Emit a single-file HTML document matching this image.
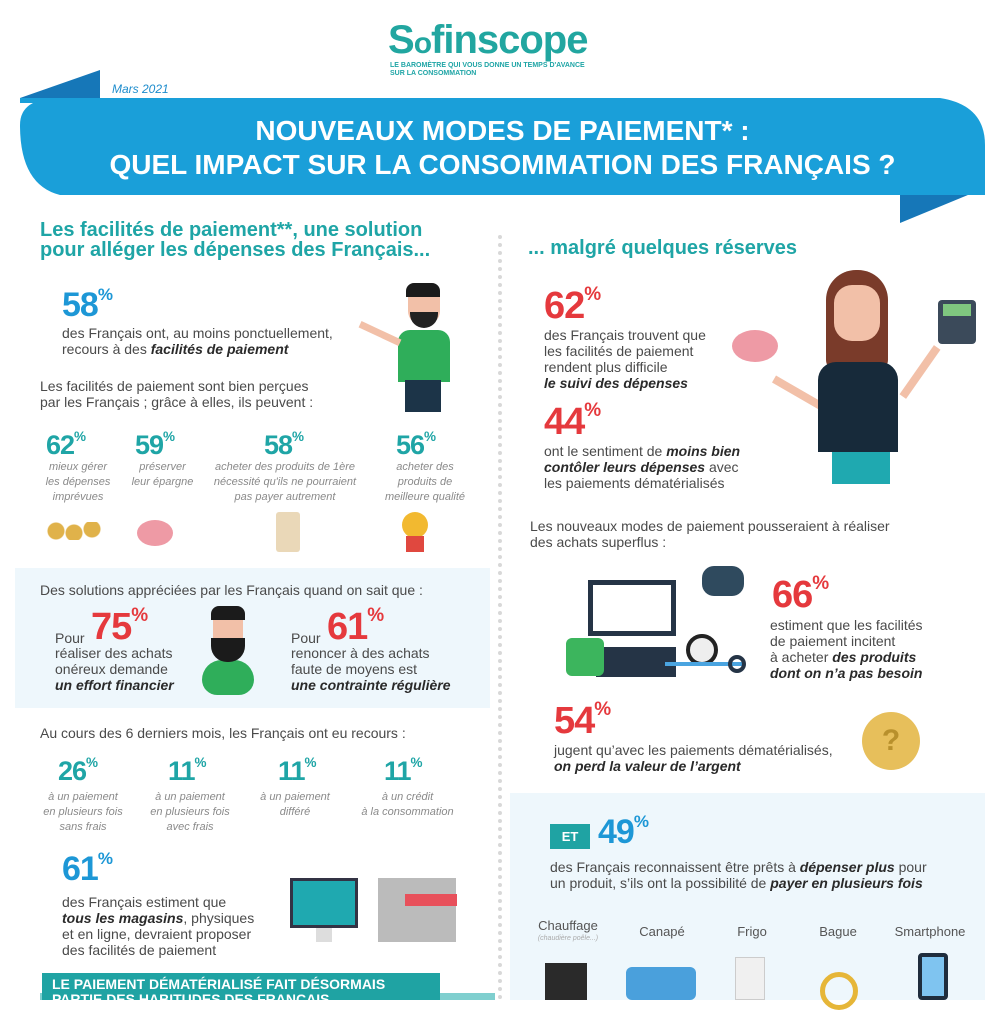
<!DOCTYPE html>
<html><head><meta charset="utf-8">
<style>
*{margin:0;padding:0;box-sizing:border-box}
body{width:1000px;height:1000px;overflow:hidden;background:#fff;position:relative;font-family:"Liberation Sans",sans-serif;color:#4a4a4a}
.a{position:absolute}
.n{font-weight:bold;letter-spacing:-1px;line-height:1}
.n sup{font-size:50%;vertical-align:top;position:relative;top:-2px;letter-spacing:0}
.red{color:#e5393d}.tl{color:#1fa5a6}.bl{color:#1d97d6}
.t{font-size:14px;line-height:16px;color:#4a4a4a}
.s{font-size:11px;line-height:15px;color:#8a8a8a;font-style:italic;text-align:center}
b{color:#2a2a2a;font-style:italic}
.h{color:#1fa5a6;font-weight:bold;font-size:20px;line-height:20px}
</style></head><body>
<div class="a" style="left:388px;top:18px;font-size:40px;font-weight:bold;color:#21a6a0;letter-spacing:-1px">S<span style="font-size:30px">o</span>finscope</div>
<div class="a" style="left:390px;top:62px;font-size:7px;font-weight:bold;color:#1fa5a6;line-height:8px">LE BAROMÈTRE QUI VOUS DONNE UN TEMPS D'AVANCE<br>SUR LA CONSOMMATION</div>
<svg class="a" style="left:0;top:65px" width="1000" height="165">
<polygon points="20,33 100,5 100,40" fill="#1677b8"/>
<polygon points="900,125 980,125 900,158" fill="#1677b8"/>
<path d="M100,33 H940 Q985,40 985,80 V130 H60 Q20,120 20,60 Q20,33 60,33 Z" fill="#1a9fd9"/>
<rect x="20" y="33" width="80" height="5" fill="#1a9fd9"/>
</svg>
<div class="a" style="left:112px;top:82px;font-size:12px;font-style:italic;color:#1d8ccc">Mars 2021</div>
<div class="a" style="left:20px;top:114px;width:965px;text-align:center;color:#fff;font-weight:bold;font-size:28px;line-height:34px">NOUVEAUX MODES DE PAIEMENT* :<br>QUEL IMPACT SUR LA CONSOMMATION DES FRANÇAIS ?</div>
<div class="a" style="left:498px;top:235px;height:765px;border-left:4px dotted #d8d8d8"></div>
<div class="a h" style="left:40px;top:220px">Les facilités de paiement**, une solution<br>pour alléger les dépenses des Français...</div>
<div class="a n bl" style="left:62px;top:288px;font-size:34px">58<sup>%</sup></div>
<div class="a t" style="left:62px;top:325px">des Français ont, au moins ponctuellement,<br>recours à des <b>facilités de paiement</b></div>
<div class="a" style="left:408px;top:285px;width:32px;height:40px;background:#f2c0a8;border-radius:10px 10px 14px 14px"></div>
<div class="a" style="left:406px;top:283px;width:34px;height:14px;background:#1b1b1b;border-radius:8px 8px 0 0"></div>
<div class="a" style="left:410px;top:312px;width:28px;height:16px;background:#222;border-radius:0 0 14px 14px"></div>
<div class="a" style="left:398px;top:330px;width:52px;height:52px;background:#2fae5a;border-radius:12px 12px 0 0"></div>
<div class="a" style="left:405px;top:380px;width:36px;height:32px;background:#1c3448"></div>
<div class="a" style="left:358px;top:330px;width:44px;height:7px;background:#f2c0a8;transform:rotate(25deg)"></div>
<div class="a t" style="left:40px;top:378px">Les facilités de paiement sont bien perçues<br>par les Français ; grâce à elles, ils peuvent :</div>
<div class="a n tl" style="left:46px;top:432px;font-size:27px">62<sup>%</sup></div>
<div class="a s" style="left:28px;top:460px;width:100px">mieux gérer<br>les dépenses<br>imprévues</div>
<div class="a n tl" style="left:135px;top:432px;font-size:27px">59<sup>%</sup></div>
<div class="a s" style="left:115px;top:460px;width:95px">préserver<br>leur épargne</div>
<div class="a n tl" style="left:264px;top:432px;font-size:27px">58<sup>%</sup></div>
<div class="a s" style="left:205px;top:460px;width:160px">acheter des produits de 1ère<br>nécessité qu'ils ne pourraient<br>pas payer autrement</div>
<div class="a n tl" style="left:396px;top:432px;font-size:27px">56<sup>%</sup></div>
<div class="a s" style="left:375px;top:460px;width:100px">acheter des<br>produits de<br>meilleure qualité</div>
<div class="a" style="left:46px;top:522px;width:56px;height:18px;background:radial-gradient(circle at 10px 9px,#e0b24a 8px,transparent 9px),radial-gradient(circle at 28px 11px,#e0b24a 8px,transparent 9px),radial-gradient(circle at 46px 7px,#e0b24a 8px,transparent 9px)"></div>
<div class="a" style="left:137px;top:520px;width:36px;height:26px;background:#ee9aa5;border-radius:50%"></div>
<div class="a" style="left:276px;top:512px;width:24px;height:40px;background:#ead8b8;border-radius:3px"></div>
<div class="a" style="left:402px;top:512px;width:26px;height:26px;background:#f2b930;border-radius:50%"></div>
<div class="a" style="left:406px;top:536px;width:18px;height:16px;background:#e0483f"></div>
<div class="a" style="left:15px;top:568px;width:475px;height:140px;background:#eef7fc"></div>
<div class="a t" style="left:40px;top:582px">Des solutions appréciées par les Français quand on sait que :</div>
<div class="a t" style="left:55px;top:630px">Pour</div>
<div class="a n red" style="left:91px;top:608px;font-size:38px">75<sup>%</sup></div>
<div class="a t" style="left:55px;top:645px">réaliser des achats<br>onéreux demande<br><b>un effort financier</b></div>
<div class="a" style="left:202px;top:660px;width:52px;height:35px;background:#2fae5a;border-radius:26px 26px 20px 20px"></div>
<div class="a" style="left:213px;top:612px;width:30px;height:40px;background:#f2c0a8;border-radius:8px"></div>
<div class="a" style="left:211px;top:606px;width:34px;height:14px;background:#1b1b1b;border-radius:8px 8px 0 0"></div>
<div class="a" style="left:211px;top:638px;width:34px;height:24px;background:#1b1b1b;border-radius:0 0 16px 16px"></div>
<div class="a t" style="left:291px;top:630px">Pour</div>
<div class="a n red" style="left:327px;top:608px;font-size:38px">61<sup>%</sup></div>
<div class="a t" style="left:291px;top:645px">renoncer à des achats<br>faute de moyens est<br><b>une contrainte régulière</b></div>
<div class="a t" style="left:40px;top:725px">Au cours des 6 derniers mois, les Français ont eu recours :</div>
<div class="a n tl" style="left:58px;top:758px;font-size:27px">26<sup>%</sup></div>
<div class="a s" style="left:28px;top:790px;width:110px">à un paiement<br>en plusieurs fois<br>sans frais</div>
<div class="a n tl" style="left:168px;top:758px;font-size:27px">11<sup>%</sup></div>
<div class="a s" style="left:135px;top:790px;width:110px">à un paiement<br>en plusieurs fois<br>avec frais</div>
<div class="a n tl" style="left:278px;top:758px;font-size:27px">11<sup>%</sup></div>
<div class="a s" style="left:245px;top:790px;width:100px">à un paiement<br>différé</div>
<div class="a n tl" style="left:384px;top:758px;font-size:27px">11<sup>%</sup></div>
<div class="a s" style="left:345px;top:790px;width:125px">à un crédit<br>à la consommation</div>
<div class="a n bl" style="left:62px;top:852px;font-size:34px">61<sup>%</sup></div>
<div class="a t" style="left:62px;top:894px">des Français estiment que<br><b>tous les magasins</b>, physiques<br>et en ligne, devraient proposer<br>des facilités de paiement</div>
<div class="a" style="left:290px;top:878px;width:68px;height:50px;background:#1fa9b0;border:3px solid #334"></div>
<div class="a" style="left:316px;top:928px;width:16px;height:14px;background:#ddd"></div>
<div class="a" style="left:378px;top:878px;width:78px;height:64px;background:#bbb"></div>
<div class="a" style="left:405px;top:894px;width:52px;height:12px;background:#e8505b"></div>
<div class="a" style="left:40px;top:993px;width:455px;height:7px;background:#7fcfcf"></div>
<div class="a" style="left:42px;top:973px;width:398px;height:27px;background:#1fa3a3;color:#fff;font-weight:bold;font-size:14px;padding:4px 10px;line-height:15px">LE PAIEMENT DÉMATÉRIALISÉ FAIT DÉSORMAIS<br>PARTIE DES HABITUDES DES FRANÇAIS</div>
<div class="a h" style="left:528px;top:238px">... malgré quelques réserves</div>
<div class="a n red" style="left:544px;top:287px;font-size:38px">62<sup>%</sup></div>
<div class="a t" style="left:544px;top:327px">des Français trouvent que<br>les facilités de paiement<br>rendent plus difficile<br><b>le suivi des dépenses</b></div>
<div class="a n red" style="left:544px;top:403px;font-size:38px">44<sup>%</sup></div>
<div class="a t" style="left:544px;top:443px">ont le sentiment de <b>moins bien<br>contôler leurs dépenses</b> avec<br>les paiements dématérialisés</div>
<div class="a" style="left:826px;top:270px;width:62px;height:100px;background:#7a3b2a;border-radius:30px 30px 10px 10px"></div>
<div class="a" style="left:834px;top:285px;width:46px;height:56px;background:#f2c0a8;border-radius:18px"></div>
<div class="a" style="left:770px;top:390px;width:60px;height:8px;background:#f2c0a8;transform:rotate(30deg)"></div>
<div class="a" style="left:890px;top:368px;width:60px;height:8px;background:#f2c0a8;transform:rotate(-55deg)"></div>
<div class="a" style="left:818px;top:362px;width:80px;height:90px;background:#172a3a;border-radius:18px 18px 0 0"></div>
<div class="a" style="left:832px;top:452px;width:58px;height:32px;background:#1fa9b0"></div>
<div class="a" style="left:732px;top:330px;width:46px;height:32px;background:#ee9aa5;border-radius:50%"></div>
<div class="a" style="left:938px;top:300px;width:38px;height:44px;background:#3b4a5a;border-radius:4px"></div>
<div class="a" style="left:943px;top:304px;width:28px;height:12px;background:#7fc77f"></div>
<div class="a t" style="left:530px;top:518px">Les nouveaux modes de paiement pousseraient à réaliser<br>des achats superflus :</div>
<div class="a" style="left:588px;top:580px;width:88px;height:56px;border:5px solid #253446;background:#fff"></div>
<div class="a" style="left:596px;top:647px;width:80px;height:30px;background:#253446"></div>
<div class="a" style="left:566px;top:638px;width:38px;height:38px;background:#3cb55d;border-radius:6px"></div>
<div class="a" style="left:702px;top:566px;width:42px;height:30px;background:#2f4a5e;border-radius:12px"></div>
<div class="a" style="left:686px;top:634px;width:32px;height:32px;background:#eee;border:4px solid #222;border-radius:50%"></div>
<div class="a" style="left:665px;top:662px;width:80px;height:4px;background:#4aa4e0"></div>
<div class="a" style="left:728px;top:655px;width:18px;height:18px;border:4px solid #253446;border-radius:50%"></div>
<div class="a n red" style="left:772px;top:576px;font-size:38px">66<sup>%</sup></div>
<div class="a t" style="left:770px;top:617px">estiment que les facilités<br>de paiement incitent<br>à acheter <b>des produits<br>dont on n’a pas besoin</b></div>
<div class="a n red" style="left:554px;top:702px;font-size:38px">54<sup>%</sup></div>
<div class="a t" style="left:554px;top:742px">jugent qu’avec les paiements dématérialisés,<br><b>on perd la valeur de l’argent</b></div>
<div class="a" style="left:862px;top:712px;width:58px;height:58px;background:#e7bf5b;border-radius:50%;color:#b8902c;font-weight:bold;font-size:30px;text-align:center;line-height:58px">?</div>
<div class="a" style="left:510px;top:793px;width:475px;height:207px;background:#eef7fc"></div>
<div class="a" style="left:550px;top:824px;width:40px;height:25px;background:#1fa3a3;color:#fff;font-weight:bold;font-size:13px;text-align:center;line-height:25px">ET</div>
<div class="a n bl" style="left:598px;top:815px;font-size:34px">49<sup>%</sup></div>
<div class="a t" style="left:550px;top:859px">des Français reconnaissent être prêts à <b>dépenser plus</b> pour<br>un produit, s’ils ont la possibilité de <b>payer en plusieurs fois</b></div>
<div class="a" style="left:528px;top:918px;width:80px;text-align:center;font-size:13px;color:#555">Chauffage</div>
<div class="a" style="left:528px;top:935px;width:80px;text-align:center;font-size:7px;color:#aaa;font-style:italic">(chaudière poêle...)</div>
<div class="a" style="left:622px;top:924px;width:80px;text-align:center;font-size:13px;color:#555">Canapé</div>
<div class="a" style="left:712px;top:924px;width:80px;text-align:center;font-size:13px;color:#555">Frigo</div>
<div class="a" style="left:798px;top:924px;width:80px;text-align:center;font-size:13px;color:#555">Bague</div>
<div class="a" style="left:890px;top:924px;width:80px;text-align:center;font-size:13px;color:#555">Smartphone</div>
<div class="a" style="left:545px;top:963px;width:42px;height:37px;background:#2a2a2a"></div>
<div class="a" style="left:626px;top:967px;width:70px;height:33px;background:#4aa0dc;border-radius:6px"></div>
<div class="a" style="left:735px;top:957px;width:30px;height:43px;background:#f0f0f0;border:1px solid #ccc"></div>
<div class="a" style="left:820px;top:972px;width:38px;height:38px;border:5px solid #e6b638;border-radius:50%"></div>
<div class="a" style="left:918px;top:953px;width:30px;height:47px;background:#7fc4f0;border:4px solid #1f2d3d;border-radius:4px"></div>
</body></html>
